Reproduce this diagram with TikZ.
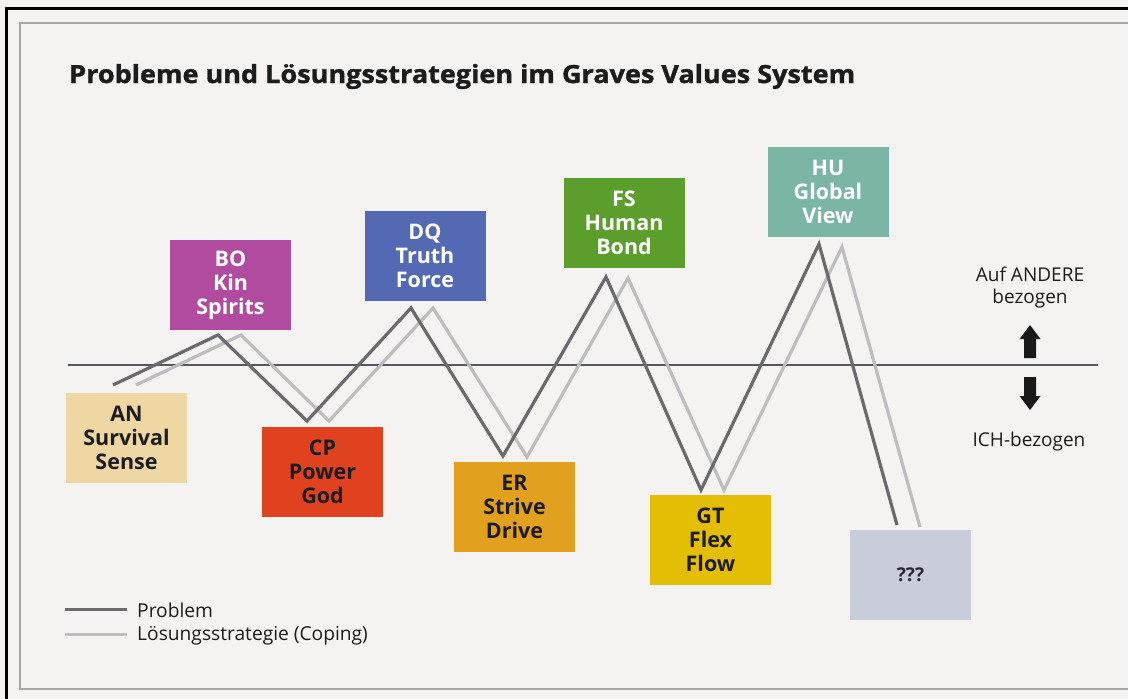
\documentclass[tikz,border=0pt]{standalone}
\usepackage{fontspec}
\setmainfont{Open Sans}
\newfontfamily\titlefont[FakeBold=1.2]{Open Sans}
\usepackage{graphicx}
\definecolor{bgc}{HTML}{F4F3F1}
\definecolor{cBO}{HTML}{B04BA0}
\definecolor{cAN}{HTML}{EED7A2}
\definecolor{cCP}{HTML}{E0421F}
\definecolor{cDQ}{HTML}{5369B3}
\definecolor{cFS}{HTML}{5B9E2C}
\definecolor{cER}{HTML}{E1A11E}
\definecolor{cGT}{HTML}{E4BE05}
\definecolor{cHU}{HTML}{7AB5A6}
\definecolor{cQQ}{HTML}{C9CCDA}
\definecolor{probc}{HTML}{6A6A6C}
\definecolor{copc}{HTML}{BDBDBF}
\definecolor{txtdark}{HTML}{1C1C1C}
\tikzset{
  lvlbox/.style={minimum width=121pt, minimum height=90pt, inner sep=0pt, align=center,
    font=\bfseries\fontsize{21.5}{24}\selectfont},
  wtext/.style={text=white},
  btext/.style={text=txtdark},
  probline/.style={draw=probc, line width=3.2pt, line join=miter},
  copline/.style={draw=copc, line width=3.2pt, line join=miter},
  sidelbl/.style={font=\fontsize{19}{22}\selectfont, text=txtdark, inner sep=0pt, align=center},
  leglbl/.style={font=\fontsize{19.2}{22}\selectfont, text=txtdark, inner sep=0pt, anchor=base west},
  bigarrow/.style={fill=black!90},
}
\begin{document}
\begin{tikzpicture}[x=1pt,y=-1pt]
\useasboundingbox (0,0) rectangle (1128,699);
\fill[bgc] (0,0) rectangle (1128,699);
% frames
\draw[black, line width=3pt] (5,8) -- (1128,8);
\draw[black, line width=3pt] (6.5,6.5) -- (6.5,699);
\draw[gray!70, line width=1.2pt] (1128,23) -- (20,23) -- (20,689) -- (1128,689);
% title
\node[anchor=base west, inner sep=0pt, text=txtdark] (title) at (69,83)
  {\resizebox{786pt}{\height}{\titlefont\bfseries\fontsize{25}{30}\selectfont Probleme und Lösungsstrategien im Graves Values System}};
% horizontal divider
\coordinate (hl) at (68,365);
\coordinate (hr) at (1098,365);
\draw[draw={rgb,255:red,85;green,88;blue,100}, line width=1.2pt] (hl) -- (hr);
% problem line vertices
\coordinate (p1) at (113,385);
\coordinate (p2) at (218,335);
\coordinate (p3) at (307,421);
\coordinate (p4) at (411,308);
\coordinate (p5) at (503,456);
\coordinate (p6) at (606,277);
\coordinate (p7) at (701,490);
\coordinate (p8) at (819,244);
\coordinate (p9) at (897,525);
% coping line vertices
\coordinate (c1) at (136,385);
\coordinate (c2) at (241,335);
\coordinate (c3) at (329,421);
\coordinate (c4) at (433,308);
\coordinate (c5) at (527,457);
\coordinate (c6) at (628,278);
\coordinate (c7) at (724,490);
\coordinate (c8) at (842,247);
\coordinate (c9) at (920,527);
\draw[copline] (c1) -- (c2) -- (c3) -- (c4) -- (c5) -- (c6) -- (c7) -- (c8) -- (c9);
\draw[probline] (p1) -- (p2) -- (p3) -- (p4) -- (p5) -- (p6) -- (p7) -- (p8) -- (p9);
% boxes
\node[lvlbox, fill=cBO, wtext] (BO) at (230.5,285) {BO\\Kin\\Spirits};
\node[lvlbox, fill=cAN, btext] (AN) at (126.5,437.5) {AN\\Survival\\Sense};
\node[lvlbox, fill=cCP, btext] (CP) at (322.5,471.5) {CP\\Power\\God};
\node[lvlbox, fill=cDQ, wtext] (DQ) at (425,255.5) {DQ\\Truth\\Force};
\node[lvlbox, fill=cFS, wtext] (FS) at (624,223) {FS\\Human\\Bond};
\node[lvlbox, fill=cER, btext] (ER) at (514.5,507) {ER\\Strive\\Drive};
\node[lvlbox, fill=cGT, btext] (GT) at (710.5,540) {GT\\Flex\\Flow};
\node[lvlbox, fill=cHU, wtext] (HU) at (828,192) {HU\\Global\\View};
\node[lvlbox, fill=cQQ, text={rgb,255:red,40;green,40;blue,55}, font=\bfseries\fontsize{19}{22}\selectfont] (QQ) at (910.5,575) {???};
% right side labels
\node[sidelbl, anchor=base] (andere) at (1030,281) {Auf ANDERE};
\node[sidelbl, anchor=base] (bez) at (1030,303) {bezogen};
\node[sidelbl, anchor=base] (ich) at (1029,446) {ICH-bezogen};
% arrows
\fill[bigarrow] (1030,325) -- (1040.5,339) -- (1036,339) -- (1036,358) -- (1024,358) -- (1024,339) -- (1019.5,339) -- cycle;
\fill[bigarrow] (1030,410) -- (1040.5,396) -- (1036,396) -- (1036,377) -- (1024,377) -- (1024,396) -- (1019.5,396) -- cycle;
% legend
\coordinate (lp1) at (65,609);
\coordinate (lp2) at (127,609);
\coordinate (lc1) at (65,634);
\coordinate (lc2) at (127,634);
\draw[probc, line width=3pt] (lp1) -- (lp2);
\draw[copc, line width=3pt] (lc1) -- (lc2);
\node[leglbl] (legp) at (137,617) {Problem};
\node[leglbl] (legc) at (137,640) {Lösungsstrategie (Coping)};
\end{tikzpicture}
\end{document}
